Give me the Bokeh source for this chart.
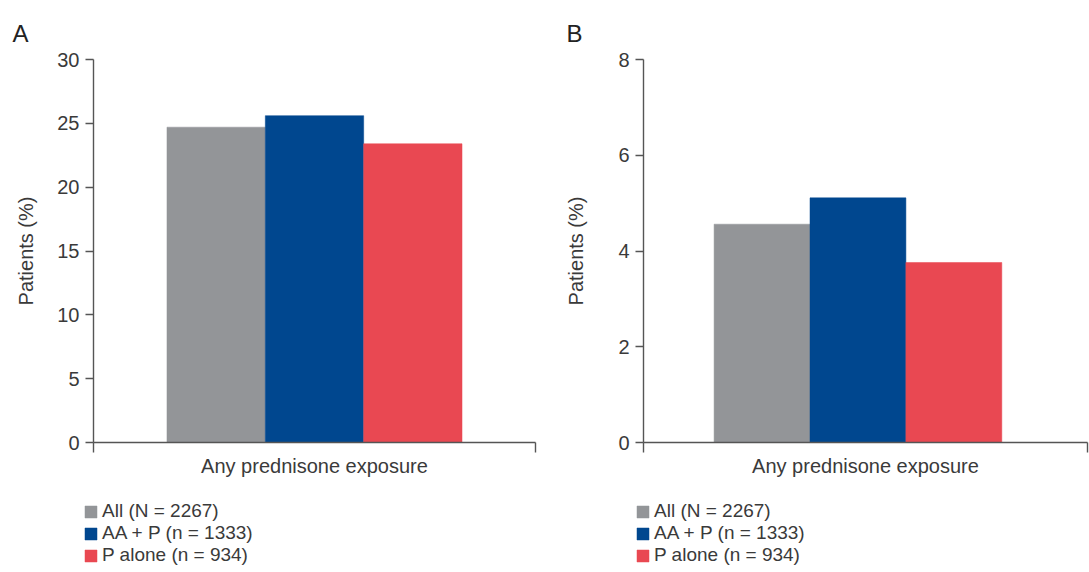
from bokeh.plotting import figure
from bokeh.models import (Range1d, FixedTicker, Legend, LegendItem, ColumnDataSource)
from bokeh.transform import dodge
from bokeh.layouts import row, column
from bokeh.embed import file_html
from bokeh.resources import INLINE

# ---- data ----
categories = ["Any prednisone exposure"]
series = ["All (N = 2267)", "AA + P (n = 1333)", "P alone (n = 934)"]
panel_a_values = [24.7, 25.6, 23.4]
panel_b_values = [4.56, 5.11, 3.76]
panel_a_ticks = [0, 5, 10, 15, 20, 25, 30]
panel_b_ticks = [0, 2, 4, 6, 8]
colors = ["#939598", "#00478f", "#e94852"]

FONT = "Liberation Sans"
TXT = "#3a3a3a"
AX = "#555555"
MAIN_H = 490
LEG_H = 572 - MAIN_H


def make_panel(letter, values, yticks, width, left, right, bar_w, shift,
               title_offset, ylabel_standoff, legend_x):
    p = figure(width=width, height=MAIN_H,
               x_range=Range1d(0, len(categories)),
               y_range=Range1d(yticks[0], yticks[-1]),
               output_backend="svg", toolbar_location=None,
               min_border_left=left, min_border_right=right,
               min_border_top=59, min_border_bottom=MAIN_H - 442)
    p.outline_line_color = None
    p.xgrid.visible = False
    p.ygrid.visible = False
    p.background_fill_color = "white"
    p.border_fill_color = "white"

    # title (panel letter)
    p.title.text = letter
    p.title.text_font = FONT
    p.title.text_font_size = "24px"
    p.title.text_font_style = "normal"
    p.title.text_color = "#222222"
    p.title.align = "left"
    p.title.vertical_align = "top"
    p.title.offset = title_offset
    p.title.standoff = 22

    # y axis
    ya = p.yaxis[0]
    ya.ticker = FixedTicker(ticks=yticks)
    ya.minor_tick_line_color = None
    ya.major_tick_out = 8
    ya.major_tick_in = 0
    ya.major_label_standoff = 6
    ya.major_label_text_font = FONT
    ya.major_label_text_font_size = "20px"
    ya.major_label_text_color = TXT
    ya.axis_line_color = AX
    ya.axis_line_width = 1.4
    ya.major_tick_line_color = AX
    ya.major_tick_line_width = 1.4
    ya.axis_label = "Patients (%)"
    ya.axis_label_text_font = FONT
    ya.axis_label_text_font_size = "20px"
    ya.axis_label_text_font_style = "normal"
    ya.axis_label_text_color = TXT
    ya.axis_label_standoff = ylabel_standoff

    # x axis: ticks only at the ends, category as the label
    xa = p.xaxis[0]
    xa.ticker = FixedTicker(ticks=[0, len(categories)])
    xa.major_label_overrides = {0: " ", len(categories): " "}
    xa.minor_tick_line_color = None
    xa.major_tick_out = 10
    xa.major_tick_in = 0
    xa.major_label_text_font_size = "1px"
    xa.major_label_standoff = 0
    xa.axis_line_color = AX
    xa.axis_line_width = 1.4
    xa.major_tick_line_color = AX
    xa.major_tick_line_width = 1.4
    xa.axis_label = categories[0]
    xa.axis_label_text_font = FONT
    xa.axis_label_text_font_size = "20px"
    xa.axis_label_text_font_style = "normal"
    xa.axis_label_text_color = TXT
    xa.axis_label_standoff = -2

    src = ColumnDataSource(dict(
        x=[i + 0.5 + shift for i in range(len(categories))],
        **{f"s{j}": [values[j]] for j in range(len(series))}))
    for j, name in enumerate(series):
        off = (j - (len(series) - 1) / 2) * bar_w
        p.vbar(x=dodge("x", off, range=p.x_range), top=f"s{j}",
               width=bar_w, bottom=0, source=src,
               fill_color=colors[j], line_color=colors[j], line_width=0.5)

    # legend strip below the panel (own small canvas)
    lf = figure(width=width, height=LEG_H,
                x_range=Range1d(100, 101), y_range=Range1d(100, 101),
                output_backend="svg", toolbar_location=None,
                min_border=0, min_border_left=0, min_border_right=0,
                min_border_top=0, min_border_bottom=0)
    lf.axis.visible = False
    lf.grid.visible = False
    lf.outline_line_color = None
    lf.background_fill_color = "white"
    lf.border_fill_color = "white"
    items = []
    for j, name in enumerate(series):
        r = lf.vbar(x="x", top=f"s{j}", width=bar_w, bottom=0, source=src,
                    fill_color=colors[j], line_color=colors[j], line_width=0.5)
        items.append(LegendItem(label=name, renderers=[r]))
    legend = Legend(items=items, location=(legend_x, 6),
                    orientation="vertical",
                    glyph_width=15, glyph_height=15,
                    label_text_font=FONT, label_text_font_size="19px",
                    label_text_color=TXT, label_standoff=4,
                    label_height=20, spacing=0, padding=0, margin=0,
                    border_line_color=None, background_fill_alpha=0)
    lf.add_layout(legend)
    return column(p, row(lf, spacing=0), spacing=0)


pa = make_panel("A", panel_a_values, panel_a_ticks, 545, 93, 10, 0.2225, 0.0,
                -81, 17, 83)
pb = make_panel("B", panel_b_values, panel_b_ticks, 544, 98, 2, 0.216, -0.017,
                -77, 28, 90)

layout = row(pa, pb, spacing=0)
open("out.html", "w").write(file_html(layout, INLINE))
